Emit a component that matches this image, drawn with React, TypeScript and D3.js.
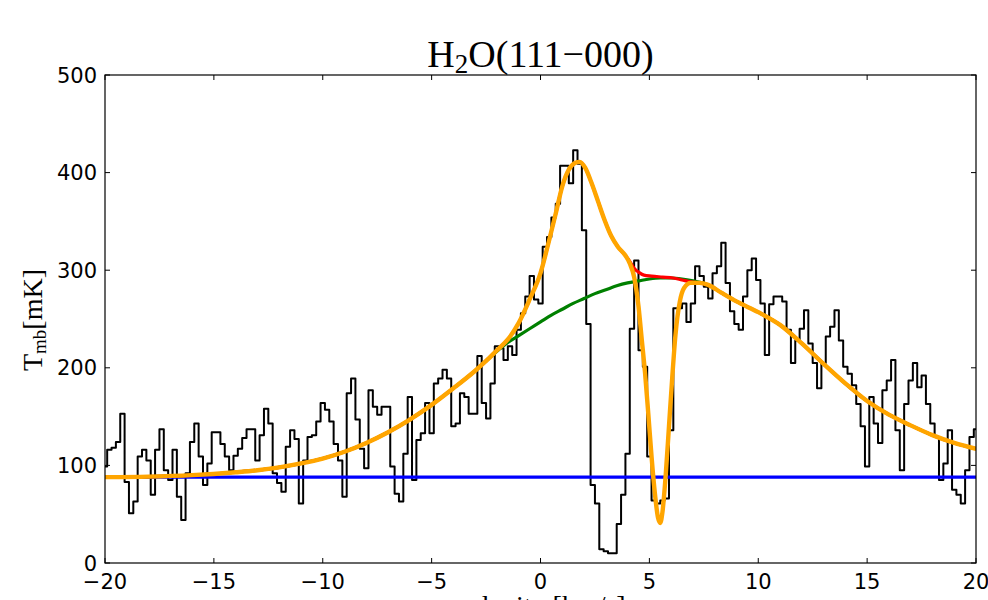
import { useMemo } from "react";
import * as d3 from "d3";

const W = 988;
const H = 600;
const M = { top: 75, right: 12, bottom: 37, left: 105 };

// observed spectrum, channels of 0.2 km/s starting at -20 km/s
const CH_START = -20;
const CH_WIDTH = 0.2;
const spectrum = [
  99, 116, 118, 124, 153, 83, 51, 63, 109, 116,
  105, 70, 116, 137, 95, 85, 116, 68, 44, 92,
  124, 143, 109, 80, 102, 134, 134, 122, 109, 95,
  110, 117, 128, 137, 137, 105, 131, 158, 143, 92,
  82, 73, 119, 136, 127, 61, 105, 129, 131, 145,
  164, 157, 145, 122, 105, 68, 174, 189, 147, 117,
  97, 177, 160, 152, 160, 160, 99, 71, 63, 112,
  170, 85, 126, 133, 164, 133, 184, 189, 198, 189,
  140, 143, 174, 170, 153, 153, 212, 164, 148, 184,
  222, 220, 208, 222, 213, 239, 256, 273, 294, 270,
  266, 324, 334, 354, 368, 407, 407, 389, 423, 409,
  341, 245, 80, 61, 14, 12, 10, 10, 40, 70,
  112, 240, 310, 218, 201, 109, 64, 61, 64, 66,
  136, 261, 261, 266, 247, 266, 304, 294, 283, 271,
  297, 304, 328, 287, 258, 245, 239, 273, 300, 312,
  290, 266, 213, 265, 273, 273, 268, 239, 205, 228,
  240, 259, 225, 205, 179, 205, 232, 242, 259, 228,
  201, 194, 182, 163, 140, 99, 170, 143, 123, 177,
  187, 208, 136, 95, 163, 187, 205, 180, 192, 163,
  143, 129, 85, 102, 136, 75, 70, 61, 95, 129, 137,
];

// fitted components, [velocity, T_mb]
const baselineFit: [number, number][] = [[-20, 88], [20, 88]];

const broadFit: [number, number][] = [
  [-20, 88], [-18, 88.5], [-16, 90], [-14, 93], [-13, 95], [-12, 98], [-11, 102],
  [-10, 107], [-9, 114], [-8, 123], [-7, 134], [-6, 147], [-5, 162], [-4, 179],
  [-3, 197], [-2.5, 207], [-2, 217], [-1.5, 226], [-1, 233], [-0.5, 240], [0, 247],
  [0.5, 254], [1, 260], [1.5, 266], [2, 271], [2.5, 276], [3, 280], [3.5, 284],
  [4, 287], [4.5, 289], [5, 291], [5.5, 292], [6, 292], [6.5, 291], [7, 289],
  [7.7, 285], [8.3, 277], [9, 268], [10, 257], [11, 244], [12, 225], [13, 204],
  [14, 184], [15, 166], [16, 152], [17, 141], [18, 131], [19, 123], [20, 117],
];

const emissionFit: [number, number][] = [
  [-20, 88], [-18, 88.5], [-16, 90], [-14, 93], [-13, 95], [-12, 98], [-11, 102],
  [-10, 107], [-9, 114], [-8, 123], [-7, 134], [-6, 147], [-5, 162], [-4, 179],
  [-3, 197], [-2.5, 207], [-2, 218], [-1.5, 229], [-1, 246], [-0.5, 270], [0, 297],
  [0.4, 331], [0.7, 358], [1, 386], [1.3, 403], [1.6, 410], [1.8, 411], [2.05, 405],
  [2.35, 389], [2.65, 370], [2.95, 351], [3.25, 335], [3.55, 324], [3.9, 315],
  [4.1, 309], [4.3, 302], [4.5, 298], [4.75, 295], [5.1, 294], [5.6, 293], [6.1, 292],
  [6.5, 290], [6.9, 288], [7.3, 287], [7.7, 285], [8.3, 277], [9, 268], [10, 257],
  [11, 244], [12, 225], [13, 204], [14, 184], [15, 166], [16, 152], [17, 141],
  [18, 131], [19, 123], [20, 117],
];

const totalFit: [number, number][] = [
  [-20, 88], [-18, 88.5], [-16, 90], [-14, 93], [-13, 95], [-12, 98], [-11, 102],
  [-10, 107], [-9, 114], [-8, 123], [-7, 134], [-6, 147], [-5, 162], [-4, 179],
  [-3, 197], [-2.5, 207], [-2, 218], [-1.5, 229], [-1, 246], [-0.5, 270], [0, 297],
  [0.4, 331], [0.7, 358], [1, 386], [1.3, 403], [1.6, 410], [1.8, 411], [2.05, 405],
  [2.35, 389], [2.65, 370], [2.95, 351], [3.25, 335], [3.55, 324], [3.9, 315],
  [4.1, 307], [4.3, 293], [4.5, 263], [4.65, 229], [4.8, 195], [4.95, 153],
  [5.1, 109], [5.25, 72], [5.4, 46], [5.5, 41], [5.6, 52], [5.75, 90], [5.9, 140],
  [6.05, 190], [6.2, 234], [6.4, 268], [6.6, 282], [6.9, 287], [7.3, 287],
  [7.7, 285], [8.3, 277], [9, 268], [10, 257], [11, 244], [12, 225], [13, 204],
  [14, 184], [15, 166], [16, 152], [17, 141], [18, 131], [19, 123], [20, 117],
];

const xTicks = [-20, -15, -10, -5, 0, 5, 10, 15, 20];
const yTicks = [0, 100, 200, 300, 400, 500];

const fmt = (v: number) => (v < 0 ? `\u2212${-v}` : `${v}`);

export default function App() {
  const x = useMemo(() => d3.scaleLinear().domain([-20, 20]).range([M.left, W - M.right]), []);
  const y = useMemo(() => d3.scaleLinear().domain([0, 500]).range([H - M.bottom, M.top]), []);

  const step = d3
    .line<number>()
    .x((_, i) => x(CH_START + i * CH_WIDTH))
    .y((d) => y(d))
    .curve(d3.curveStep);

  const smooth = d3
    .line<[number, number]>()
    .x((d) => x(d[0]))
    .y((d) => y(d[1]))
    .curve(d3.curveMonotoneX);

  const x0 = M.left;
  const x1 = W - M.right;
  const y0 = H - M.bottom;
  const y1 = M.top;
  const tick = 5;

  return (
    <div style={{ position: "fixed", left: 0, top: 0 }}>
      <svg width={W} height={H} style={{ display: "block", background: "#fff" }}>
        <defs>
          <clipPath id="plot">
            <rect x={x0} y={y1} width={x1 - x0} height={y0 - y1} />
          </clipPath>
        </defs>

        <g clipPath="url(#plot)" fill="none" strokeLinejoin="round">
          <path d={step(spectrum) ?? undefined} stroke="#000" strokeWidth={2} />
          <path d={smooth(baselineFit) ?? undefined} stroke="#0000ff" strokeWidth={3.2} />
          <path d={smooth(broadFit) ?? undefined} stroke="#008000" strokeWidth={3.2} />
          <path d={smooth(emissionFit) ?? undefined} stroke="#ff0000" strokeWidth={3.2} />
          <path d={smooth(totalFit) ?? undefined} stroke="#ffa500" strokeWidth={4.4} strokeLinecap="round" />
        </g>

        {/* ticks on all four sides, pointing in */}
        <g stroke="#000" strokeWidth={1}>
          {xTicks.map((t) => (
            <g key={t}>
              <line x1={x(t)} x2={x(t)} y1={y0} y2={y0 - tick} />
              <line x1={x(t)} x2={x(t)} y1={y1} y2={y1 + tick} />
            </g>
          ))}
          {yTicks.map((t) => (
            <g key={t}>
              <line x1={x0} x2={x0 + tick} y1={y(t)} y2={y(t)} />
              <line x1={x1} x2={x1 - tick} y1={y(t)} y2={y(t)} />
            </g>
          ))}
        </g>
        <rect x={x0} y={y1} width={x1 - x0} height={y0 - y1} fill="none" stroke="#000" strokeWidth={1.2} />

        <g fontFamily="DejaVu Sans" fontSize={21} fill="#000">
          {xTicks.map((t) => (
            <text key={t} x={x(t)} y={y0 + 26} textAnchor="middle">
              {fmt(t)}
            </text>
          ))}
          {yTicks.map((t) => (
            <text key={t} x={x0 - 8} y={y(t)} dy="0.36em" textAnchor="end">
              {fmt(t)}
            </text>
          ))}
        </g>

        <text x={(x0 + x1) / 2} y={67} textAnchor="middle" fontFamily="Liberation Serif" fontSize={38}>
          H<tspan fontSize={27} dy={6}>2</tspan>
          <tspan dy={-6}>O(111{"\u2212"}000)</tspan>
        </text>

        <text
          transform={`translate(${42},${320}) rotate(-90)`}
          textAnchor="middle"
          fontFamily="Liberation Serif"
          fontSize={28}
        >
          T<tspan fontSize={19} dy={4}>mb</tspan>
          <tspan dy={-4}>[mK]</tspan>
        </text>

        <text x={(x0 + x1) / 2} y={615} textAnchor="middle" fontFamily="Liberation Serif" fontSize={28}>
          velocity [km/s]
        </text>
      </svg>
    </div>
  );
}
